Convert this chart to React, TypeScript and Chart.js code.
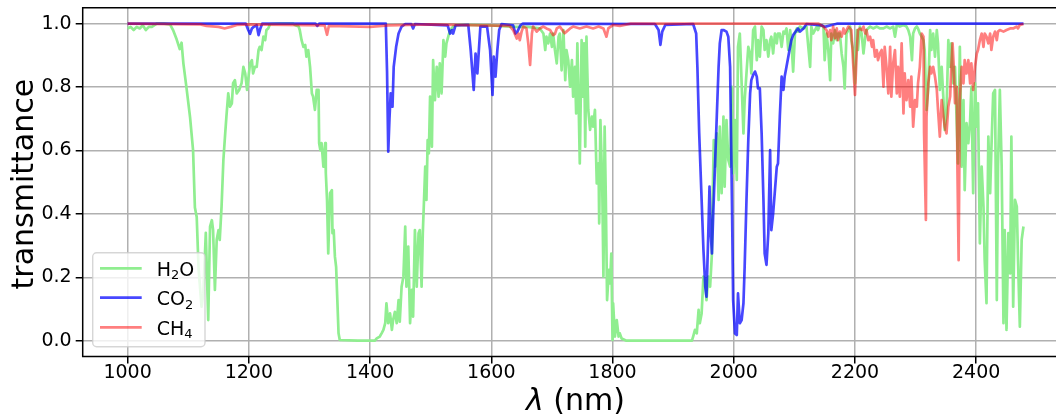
import React, { useEffect, useRef } from "react";
import { Chart, registerables } from "chart.js";

Chart.register(...registerables);

// wavelength (nm), transmittance
const h2oSpectrum: [number, number][] = [
  [1000,0.985],[1005,0.99],[1010,0.98],[1015,0.99],[1020,0.985],[1025,0.995],[1030,0.98],[1035,0.99],[1040,0.99],[1048,1.0],[1060,1.0],[1070,0.998],[1075,0.98],[1081,0.95],[1086,0.92],[1089,0.94],[1092,0.875],[1097,0.80],[1103,0.705],[1108,0.60],[1111,0.42],[1114,0.39],[1117,0.23],[1119,0.18],[1122,0.107],[1125,0.149],[1129,0.34],[1133,0.065],[1136,0.36],[1139,0.38],[1141,0.349],[1144,0.16],[1147,0.318],[1150,0.349],[1152,0.318],[1155,0.423],[1158,0.57],[1161,0.654],[1163,0.707],[1166,0.78],[1169,0.738],[1172,0.749],[1174,0.812],[1177,0.822],[1180,0.78],[1184,0.791],[1188,0.812],[1191,0.864],[1194,0.843],[1197,0.791],[1202,0.875],[1205,0.885],[1207,0.843],[1210,0.864],[1213,0.864],[1216,0.917],[1218,0.927],[1221,0.917],[1224,0.959],[1227,0.948],[1229,0.98],[1232,0.985],[1235,0.999],[1250,1.0],[1273,1.0],[1276,0.996],[1282,0.991],[1284,0.98],[1287,0.948],[1290,0.927],[1293,0.933],[1295,0.896],[1298,0.917],[1301,0.864],[1304,0.78],[1306,0.77],[1309,0.728],[1312,0.791],[1315,0.791],[1316,0.623],[1318,0.601],[1320,0.623],[1323,0.549],[1326,0.623],[1327,0.528],[1329,0.444],[1331,0.275],[1334,0.465],[1337,0.475],[1338,0.339],[1340,0.349],[1342,0.265],[1344,0.233],[1346,0.128],[1348,0.023],[1350,0.002],[1380,0.0],[1408,0.0],[1411,0.007],[1416,0.013],[1419,0.023],[1422,0.034],[1425,0.055],[1427,0.118],[1430,0.055],[1433,0.086],[1436,0.034],[1438,0.065],[1441,0.091],[1444,0.055],[1447,0.128],[1449,0.06],[1452,0.17],[1455,0.202],[1458,0.36],[1460,0.17],[1463,0.297],[1466,0.055],[1469,0.16],[1471,0.076],[1474,0.349],[1477,0.17],[1480,0.339],[1482,0.349],[1485,0.17],[1487,0.339],[1489,0.444],[1491,0.549],[1493,0.444],[1495,0.633],[1497,0.591],[1499,0.77],[1502,0.612],[1504,0.885],[1507,0.759],[1510,0.864],[1513,0.77],[1515,0.875],[1518,0.78],[1521,0.948],[1524,0.896],[1526,0.938],[1529,0.959],[1532,0.98],[1537,0.991],[1543,0.996],[1560,0.996],[1600,0.995],[1640,0.99],[1660,0.99],[1680,0.985],[1686,0.969],[1689,0.917],[1691,0.959],[1694,0.938],[1697,0.969],[1700,0.927],[1702,0.969],[1705,0.917],[1708,0.875],[1711,0.959],[1713,0.969],[1716,0.853],[1719,0.98],[1722,0.822],[1724,0.917],[1727,0.885],[1730,0.801],[1733,0.885],[1735,0.77],[1738,0.864],[1740,0.717],[1742,0.938],[1744,0.759],[1746,0.559],[1749,0.948],[1751,0.77],[1753,0.938],[1755,0.612],[1757,0.959],[1760,0.728],[1763,0.665],[1766,0.707],[1768,0.675],[1771,0.728],[1774,0.496],[1777,0.559],[1778,0.37],[1780,0.696],[1783,0.496],[1785,0.202],[1787,0.675],[1789,0.444],[1791,0.128],[1794,0.223],[1796,0.181],[1798,0.275],[1800,0.002],[1801,0.118],[1804,0.013],[1807,0.065],[1810,0.013],[1812,0.023],[1815,0.007],[1823,0.0],[1931,0.0],[1933,0.013],[1936,0.034],[1939,0.023],[1942,0.097],[1944,0.055],[1947,0.086],[1950,0.202],[1953,0.191],[1955,0.128],[1958,0.202],[1961,0.17],[1964,0.275],[1965,0.423],[1967,0.633],[1969,0.549],[1972,0.654],[1975,0.444],[1977,0.675],[1980,0.465],[1983,0.707],[1985,0.486],[1988,0.696],[1991,0.57],[1994,0.549],[1997,0.801],[1999,0.528],[2002,0.696],[2005,0.507],[2007,0.927],[2010,0.969],[2013,0.812],[2016,0.654],[2018,0.759],[2021,0.843],[2024,0.927],[2027,0.906],[2029,0.843],[2032,0.98],[2035,0.991],[2038,0.885],[2040,0.948],[2043,0.896],[2046,0.991],[2049,0.98],[2051,0.917],[2054,0.948],[2057,0.896],[2060,0.948],[2062,0.959],[2065,0.906],[2068,0.969],[2071,0.938],[2073,0.969],[2076,0.969],[2079,0.927],[2082,0.975],[2084,0.969],[2087,0.985],[2090,0.917],[2093,0.98],[2095,0.948],[2098,0.849],[2101,0.969],[2104,0.985],[2106,0.975],[2109,0.991],[2115,0.985],[2120,0.991],[2123,0.927],[2126,0.864],[2128,0.991],[2131,0.969],[2134,0.98],[2137,0.991],[2139,0.98],[2142,0.996],[2148,0.991],[2150,0.885],[2153,0.969],[2156,0.917],[2159,0.822],[2161,0.969],[2164,0.938],[2167,0.98],[2170,0.948],[2172,0.969],[2175,0.969],[2178,0.906],[2181,0.864],[2183,0.796],[2186,0.969],[2189,0.98],[2192,0.991],[2194,0.948],[2197,0.917],[2200,0.812],[2203,0.98],[2205,0.917],[2208,0.991],[2211,0.969],[2214,0.906],[2217,0.959],[2219,0.98],[2225,0.991],[2230,0.985],[2236,0.991],[2241,0.985],[2247,0.985],[2252,0.991],[2258,0.985],[2263,0.991],[2266,0.959],[2269,0.996],[2274,0.991],[2280,0.996],[2285,0.991],[2288,0.98],[2291,0.959],[2294,0.885],[2296,0.969],[2299,0.985],[2302,0.991],[2304,0.985],[2307,0.969],[2310,0.959],[2313,0.948],[2315,0.917],[2318,0.728],[2321,0.801],[2324,0.98],[2326,0.917],[2329,0.969],[2332,0.896],[2335,0.98],[2337,0.938],[2340,0.791],[2343,0.864],[2346,0.759],[2348,0.665],[2351,0.717],[2354,0.948],[2357,0.864],[2359,0.938],[2362,0.812],[2365,0.864],[2368,0.675],[2370,0.559],[2373,0.927],[2376,0.549],[2379,0.759],[2381,0.475],[2384,0.686],[2387,0.623],[2390,0.696],[2392,0.801],[2395,0.465],[2398,0.812],[2401,0.675],[2403,0.749],[2406,0.307],[2409,0.549],[2412,0.423],[2414,0.254],[2417,0.118],[2420,0.644],[2423,0.465],[2425,0.601],[2428,0.78],[2431,0.791],[2434,0.128],[2436,0.549],[2439,0.791],[2442,0.549],[2445,0.055],[2447,0.349],[2450,0.034],[2453,0.339],[2456,0.212],[2458,0.644],[2461,0.107],[2464,0.444],[2467,0.423],[2469,0.254],[2472,0.044],[2475,0.318],[2478,0.36]
];

const co2Spectrum: [number, number][] = [
  [1000,1.0],[1195,1.0],[1199,0.98],[1202,0.968],[1205,0.985],[1208,0.99],[1213,0.995],[1216,0.964],[1219,0.985],[1222,1.0],[1310,1.0],[1313,0.993],[1316,1.0],[1426,1.0],[1428,0.85],[1430,0.596],[1432,0.70],[1434,0.78],[1437,0.738],[1439,0.864],[1443,0.927],[1447,0.969],[1452,0.991],[1458,0.999],[1468,0.999],[1471,0.985],[1474,0.999],[1528,0.995],[1532,0.969],[1535,0.98],[1537,0.969],[1541,0.995],[1562,0.996],[1566,0.917],[1571,0.791],[1574,0.906],[1577,0.843],[1582,0.991],[1593,0.991],[1598,0.917],[1602,0.775],[1604,0.896],[1607,0.833],[1610,0.917],[1613,0.98],[1617,0.999],[1636,0.995],[1640,0.969],[1643,0.975],[1648,0.995],[1652,1.0],[1870,0.999],[1876,0.98],[1879,0.933],[1882,0.975],[1887,0.996],[1933,0.999],[1938,0.969],[1940,0.864],[1943,0.654],[1947,0.444],[1950,0.286],[1953,0.17],[1955,0.139],[1958,0.339],[1960,0.486],[1962,0.339],[1964,0.275],[1966,0.391],[1969,0.549],[1972,0.707],[1975,0.864],[1977,0.938],[1980,0.98],[1983,0.98],[1988,0.975],[1991,0.959],[1994,0.864],[1997,0.444],[1999,0.128],[2002,0.023],[2005,0.018],[2007,0.149],[2010,0.055],[2013,0.065],[2016,0.118],[2018,0.233],[2021,0.444],[2024,0.633],[2027,0.78],[2029,0.822],[2032,0.838],[2035,0.849],[2038,0.833],[2040,0.796],[2043,0.796],[2046,0.654],[2049,0.444],[2051,0.275],[2054,0.239],[2057,0.339],[2060,0.601],[2062,0.349],[2065,0.402],[2068,0.475],[2071,0.549],[2073,0.559],[2076,0.707],[2079,0.833],[2082,0.791],[2084,0.833],[2087,0.864],[2090,0.896],[2093,0.927],[2095,0.948],[2098,0.964],[2104,0.98],[2106,0.985],[2109,0.975],[2115,0.985],[2120,0.999],[2145,0.995],[2150,0.99],[2160,0.995],[2170,1.0],[2478,1.0]
];

const ch4Spectrum: [number, number][] = [
  [1000,1.0],[1120,0.998],[1130,0.993],[1150,0.99],[1160,0.985],[1170,0.99],[1180,0.996],[1200,0.998],[1325,0.995],[1329,0.965],[1332,0.993],[1400,0.99],[1430,0.995],[1500,0.998],[1630,0.993],[1636,0.98],[1642,0.953],[1645,0.969],[1647,0.948],[1650,0.975],[1653,0.991],[1658,0.985],[1661,0.938],[1664,0.87],[1667,0.969],[1669,0.991],[1675,0.975],[1680,0.985],[1686,0.991],[1691,0.985],[1697,0.98],[1702,0.964],[1705,0.968],[1708,0.985],[1713,0.991],[1719,0.975],[1721,0.97],[1724,0.975],[1730,0.985],[1735,0.991],[1746,0.985],[1757,0.991],[1768,0.985],[1777,0.991],[1785,0.985],[1790,0.959],[1793,0.985],[1801,0.996],[1812,0.993],[1830,1.0],[2140,1.0],[2148,0.991],[2153,0.98],[2156,0.959],[2159,0.98],[2161,0.948],[2164,0.991],[2167,0.954],[2170,0.985],[2172,0.948],[2175,0.975],[2178,0.959],[2181,0.985],[2183,0.969],[2186,0.98],[2189,0.991],[2192,0.985],[2194,0.98],[2197,0.875],[2200,0.775],[2203,0.917],[2205,0.98],[2208,0.985],[2211,0.98],[2214,0.991],[2217,0.969],[2219,0.98],[2222,0.948],[2225,0.959],[2228,0.927],[2230,0.948],[2233,0.896],[2236,0.917],[2238,0.885],[2241,0.906],[2244,0.917],[2247,0.801],[2249,0.927],[2252,0.864],[2255,0.78],[2258,0.927],[2260,0.77],[2263,0.875],[2266,0.917],[2269,0.78],[2271,0.864],[2274,0.77],[2277,0.938],[2280,0.717],[2282,0.843],[2285,0.759],[2288,0.822],[2291,0.738],[2293,0.833],[2296,0.675],[2299,0.759],[2302,0.738],[2304,0.812],[2307,0.864],[2310,0.969],[2313,0.959],[2314,0.654],[2317,0.381],[2318,0.707],[2321,0.812],[2324,0.864],[2326,0.843],[2329,0.864],[2332,0.833],[2335,0.791],[2337,0.728],[2340,0.644],[2343,0.759],[2346,0.707],[2348,0.675],[2351,0.654],[2354,0.738],[2357,0.77],[2359,0.864],[2361,0.938],[2363,0.864],[2365,0.749],[2368,0.801],[2369,0.549],[2371,0.254],[2373,0.759],[2376,0.864],[2379,0.812],[2381,0.885],[2384,0.843],[2387,0.885],[2390,0.812],[2392,0.875],[2395,0.791],[2398,0.864],[2401,0.906],[2403,0.917],[2406,0.948],[2409,0.969],[2412,0.927],[2414,0.969],[2417,0.959],[2420,0.938],[2423,0.969],[2425,0.917],[2428,0.959],[2431,0.975],[2434,0.948],[2436,0.975],[2439,0.98],[2445,0.975],[2450,0.98],[2456,0.985],[2461,0.985],[2467,0.991],[2469,0.985],[2472,0.996],[2478,0.999]
];

const seriesLabels = ["H_2O", "CO_2", "CH_4"];
const seriesColors = ["rgb(144,238,144)", "rgba(0,0,255,0.72)", "rgba(255,0,0,0.5)"];
const xTicks = [1000, 1200, 1400, 1600, 1800, 2000, 2200, 2400];
const yTicks = [0, 0.2, 0.4, 0.6, 0.8, 1.0];
const xLabelMath = "λ";
const xLabelRest = " (nm)";
const yLabel = "transmittance";

const FONT = "'DejaVu Sans', sans-serif";
const CANVAS_W = 1100;
const CANVAS_H = 414;
const AREA_LEFT = 82.7;
const AREA_RIGHT = 1068.4;
const AREA_TOP = 7.85;
const AREA_BOTTOM = 356.5;

function drawMathLabel(ctx: CanvasRenderingContext2D, text: string, x: number, y: number, size: number) {
  // parses "_c" as a subscript character
  let cx = x;
  for (let i = 0; i < text.length; i++) {
    const ch = text[i];
    if (ch === "_" && i + 1 < text.length) {
      const s = text[i + 1];
      ctx.font = `${Math.round(size * 0.7)}px ${FONT}`;
      ctx.fillText(s, cx, y + 3.5);
      cx += ctx.measureText(s).width;
      i++;
    } else {
      ctx.font = `${size}px ${FONT}`;
      ctx.fillText(ch, cx, y);
      cx += ctx.measureText(ch).width;
    }
  }
}

const decorPlugin = {
  id: "decor",
  afterDatasetsDraw(chart: any) {
    const { ctx, chartArea } = chart;
    const { left, right, top, bottom } = chartArea;
    ctx.save();
    // frame
    ctx.strokeStyle = "#000";
    ctx.lineWidth = 1.5;
    ctx.beginPath();
    ctx.moveTo(left, top);
    ctx.lineTo(right, top);
    ctx.lineTo(right, bottom);
    ctx.lineTo(left, bottom);
    ctx.closePath();
    ctx.stroke();

    // legend
    const bx = 92.7, by = 252.7, bw = 112.3, bh = 94;
    ctx.beginPath();
    (ctx as any).roundRect(bx, by, bw, bh, 4);
    ctx.fillStyle = "rgba(255,255,255,0.8)";
    ctx.fill();
    ctx.strokeStyle = "rgba(204,204,204,0.8)";
    ctx.lineWidth = 1.4;
    ctx.stroke();
    const rows = [268.3, 297.7, 327.3];
    seriesLabels.forEach((lab, i) => {
      ctx.strokeStyle = seriesColors[i];
      ctx.lineWidth = 2.7;
      ctx.lineCap = "butt";
      ctx.beginPath();
      ctx.moveTo(100, rows[i]);
      ctx.lineTo(141.7, rows[i]);
      ctx.stroke();
      ctx.fillStyle = "#000";
      ctx.textBaseline = "alphabetic";
      ctx.textAlign = "left";
      drawMathLabel(ctx, lab, 156.7, rows[i] + 7.5, 19);
    });

    // axis titles
    ctx.fillStyle = "#000";
    ctx.textBaseline = "alphabetic";
    ctx.font = `italic 30px ${FONT}`;
    const w1 = ctx.measureText(xLabelMath).width;
    ctx.font = `30px ${FONT}`;
    const w2 = ctx.measureText(xLabelRest).width;
    const cxMid = (left + right) / 2;
    const startX = cxMid - (w1 + w2) / 2;
    ctx.textAlign = "left";
    ctx.font = `italic 30px ${FONT}`;
    ctx.fillText(xLabelMath, startX, 410);
    ctx.font = `30px ${FONT}`;
    ctx.fillText(xLabelRest, startX + w1, 410);

    ctx.translate(33, (top + bottom) / 2 + 2);
    ctx.rotate(-Math.PI / 2);
    ctx.textAlign = "center";
    ctx.font = `30px ${FONT}`;
    ctx.fillText(yLabel, 0, 0);
    ctx.restore();
  },
};

export default function App() {
  const canvasRef = useRef<HTMLCanvasElement | null>(null);

  useEffect(() => {
    if (!canvasRef.current) return;
    const toPts = (arr: [number, number][]) => arr.map(([x, y]) => ({ x, y }));
    const spectra = [h2oSpectrum, co2Spectrum, ch4Spectrum];
    const chart = new Chart(canvasRef.current, {
      type: "line",
      data: {
        datasets: spectra.map((s, i) => ({
          label: seriesLabels[i],
          data: toPts(s),
          borderColor: seriesColors[i],
          backgroundColor: seriesColors[i],
          borderWidth: 2.7,
          pointRadius: 0,
          tension: 0,
          fill: false,
          borderJoinStyle: "round" as const,
          order: 3 - i,
        })),
      },
      options: {
        animation: false,
        responsive: false,
        devicePixelRatio: 1,
        events: [],
        layout: { padding: { left: 0, top: AREA_TOP, right: CANVAS_W - AREA_RIGHT, bottom: 0 } },
        plugins: { legend: { display: false }, tooltip: { enabled: false } },
        scales: {
          x: {
            type: "linear",
            min: 925.9,
            max: 2552.1,
            afterBuildTicks: (scale: any) => {
              scale.ticks = xTicks.map((v) => ({ value: v }));
            },
            afterFit: (scale: any) => {
              scale.height = CANVAS_H - AREA_BOTTOM;
              scale.paddingLeft = 0;
              scale.paddingRight = 0;
            },
            ticks: {
              font: { family: FONT, size: 19 },
              color: "#000",
              padding: -2.3,
              maxRotation: 0,
              autoSkip: false,
              callback: (v: any) => String(v),
            },
            grid: { color: "#b0b0b0", lineWidth: 1.5, tickColor: "#000", tickLength: 7, tickWidth: 1.5 },
            border: { display: false },
          },
          y: {
            type: "linear",
            min: -0.05,
            max: 1.05,
            afterBuildTicks: (scale: any) => {
              scale.ticks = yTicks.map((v) => ({ value: v }));
            },
            afterFit: (scale: any) => {
              scale.width = AREA_LEFT;
              scale.paddingTop = 0;
              scale.paddingBottom = 0;
            },
            ticks: {
              font: { family: FONT, size: 19 },
              color: "#000",
              padding: 4,
              autoSkip: false,
              callback: (v: any) => Number(v).toFixed(1),
            },
            grid: { color: "#b0b0b0", lineWidth: 1.5, tickColor: "#000", tickLength: 7, tickWidth: 1.5 },
            border: { display: false },
          },
        },
      },
      plugins: [decorPlugin],
    } as any);
    return () => chart.destroy();
  }, []);

  return (
    <div style={{ position: "absolute", left: 0, top: 0, width: 1056, height: 414, overflow: "hidden", background: "#fff" }}>
      <canvas ref={canvasRef} width={CANVAS_W} height={CANVAS_H} style={{ width: CANVAS_W, height: CANVAS_H, display: "block" }} />
    </div>
  );
}
